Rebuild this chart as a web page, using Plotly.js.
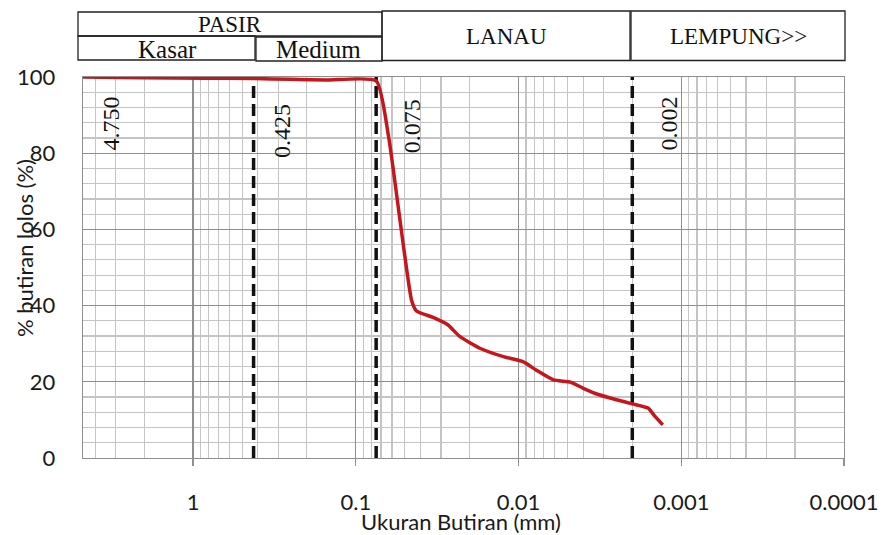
<!DOCTYPE html>
<html>
<head>
<meta charset="utf-8">
<script src="https://cdn.plot.ly/plotly-3.0.1.min.js"></script>
<style>html,body{margin:0;padding:0;background:#fff;}#chart{width:884px;height:535px;}</style>
</head>
<body>
<div id="chart"></div>
<script>
// ---- data ----
const grainSize = [4.75, 2.0, 0.85, 0.425, 0.25, 0.15, 0.075, 0.063, 0.0455, 0.0424, 0.0335, 0.0271, 0.0230, 0.0173, 0.0124, 0.0094, 0.0078, 0.0061, 0.0048, 0.0040, 0.0032, 0.0025, 0.0020, 0.0016, 0.00145, 0.0013];
const percentPassing = [100, 99.8, 99.7, 99.6, 99.4, 99.2, 99.0, 84.5, 41.5, 38.6, 36.9, 34.9, 31.9, 28.8, 26.6, 25.3, 23.1, 20.5, 19.9, 18.3, 16.6, 15.3, 14.2, 13.1, 10.9, 8.7];

const boundarySizes = [0.425, 0.075, 0.002];
const boundaryLabelSizes = [4.75, 0.425, 0.075, 0.002];
const boundaryLabels = ['4.750', '0.425', '0.075', '0.002'];

const xTickVals = [1, 0.1, 0.01, 0.001, 0.0001];
const xTickText = ['1', '0.1', '0.01', '0.001', '0.0001'];
const yTickVals = [0, 20, 40, 60, 80, 100];

const headerTop = ['PASIR', 'LANAU', 'LEMPUNG>>'];
const headerSub = ['Kasar', 'Medium'];

const xTitle = 'Ukuran Butiran (mm)';
const yTitle = '% butiran lolos (%)';

// ---- layout helpers (pixel -> paper) ----
const L = 83, R = 844, T = 77, B = 458;
const px = v => (v - L) / (R - L);
const py = v => (B - v) / (B - T);

// minor grid positions (2..9 x decade)
const minorVals = [];
for (let e = 0; e >= -4; e--) {
  for (let m = 2; m <= 9; m++) {
    const v = m * Math.pow(10, e);
    if (v <= 4.75) minorVals.push(v);
  }
}

const traces = [];
boundarySizes.forEach(s => {
  traces.push({
    x: [s, s], y: [0, 100], mode: 'lines', type: 'scatter',
    line: {color: '#111111', width: 3.5, dash: '12px,6px'},
    hoverinfo: 'skip', showlegend: false
  });
});
traces.push({
  x: grainSize, y: percentPassing, mode: 'lines', type: 'scatter',
  line: {color: '#c4161c', width: 3.5, shape: 'spline', smoothing: 0.5},
  showlegend: false
});

const serif = 'Liberation Serif, Times New Roman, serif';
const sans = 'Lato, Open Sans, sans-serif';

const labelShift = [28, 29, 36, 37];
const labelY = [87.8, 85.7, 87.1, 87.9];
const annotations = boundaryLabelSizes.map((s, i) => ({
  x: Math.log10(s), y: labelY[i], xref: 'x', yref: 'y',
  text: boundaryLabels[i], textangle: -90, showarrow: false,
  xanchor: 'center', yanchor: 'middle', xshift: labelShift[i],
  font: {family: serif, size: 24, color: '#111'}
}));

// header texts
const headerPos = [[230, 25], [506, 37], [738, 37]];
headerTop.forEach((t, i) => annotations.push({
  x: px(headerPos[i][0]), y: py(headerPos[i][1]), xref: 'paper', yref: 'paper',
  text: t, showarrow: false, xanchor: 'center', yanchor: 'middle',
  font: {family: serif, size: 23, color: '#111'}
}));
const subPos = [[167, 49], [318, 50]];
headerSub.forEach((t, i) => annotations.push({
  x: px(subPos[i][0]), y: py(subPos[i][1]), xref: 'paper', yref: 'paper',
  text: t, showarrow: false, xanchor: 'center', yanchor: 'middle',
  font: {family: serif, size: 25, color: '#111'}
}));

// axis titles
annotations.push({
  x: px(461), y: py(521), xref: 'paper', yref: 'paper', text: xTitle,
  showarrow: false, xanchor: 'center', yanchor: 'middle',
  font: {family: sans, size: 22, color: '#1a1a1a'}
});
annotations.push({
  x: px(24), y: py(248), xref: 'paper', yref: 'paper', text: yTitle,
  showarrow: false, xanchor: 'center', yanchor: 'middle', textangle: -90,
  font: {family: sans, size: 22, color: '#1a1a1a'}
});

const box = (x0, y0, x1, y1) => ({
  type: 'rect', xref: 'paper', yref: 'paper',
  x0: px(x0), x1: px(x1), y0: py(y1), y1: py(y0),
  line: {color: '#222', width: 1.3}, fillcolor: 'rgba(0,0,0,0)'
});
const shapes = [
  box(78, 12, 382, 36),
  box(78, 36, 255, 60),
  box(256, 37, 382, 61),
  box(382, 11, 630, 60.5),
  box(631, 11, 845, 60.5)
];

const layout = {
  width: 884, height: 535,
  margin: {l: L, r: 884 - R, t: T, b: 535 - B, pad: 0},
  paper_bgcolor: '#ffffff', plot_bgcolor: '#ffffff',
  showlegend: false,
  xaxis: {
    type: 'log', range: [Math.log10(4.75), -4],
    tickmode: 'array', tickvals: xTickVals, ticktext: xTickText,
    ticks: 'outside', ticklen: 7, tickcolor: '#8f8f8f', tickwidth: 1.3,
    ticklabelstandoff: 17,
    tickfont: {family: sans, size: 22, color: '#1a1a1a'},
    showgrid: true, gridcolor: '#8f8f8f', gridwidth: 1.3,
    minor: {tickmode: 'array', tickvals: minorVals, showgrid: true, gridcolor: '#c4c4c4', gridwidth: 1.2, ticks: ''},
    showline: true, mirror: true, linecolor: '#8f8f8f', linewidth: 1.3,
    zeroline: false
  },
  yaxis: {
    range: [0, 100], tickmode: 'array', tickvals: yTickVals,
    ticks: '', ticklabelstandoff: 22,
    tickfont: {family: sans, size: 22, color: '#1a1a1a'},
    showgrid: true, gridcolor: '#8f8f8f', gridwidth: 1.3,
    minor: {dtick: 4, showgrid: true, gridcolor: '#c4c4c4', gridwidth: 1.2, ticks: ''},
    showline: true, mirror: true, linecolor: '#8f8f8f', linewidth: 1.3,
    zeroline: false
  },
  annotations: annotations,
  shapes: shapes
};

Plotly.newPlot('chart', traces, layout, {staticPlot: true, displayModeBar: false});
</script>
</body>
</html>
